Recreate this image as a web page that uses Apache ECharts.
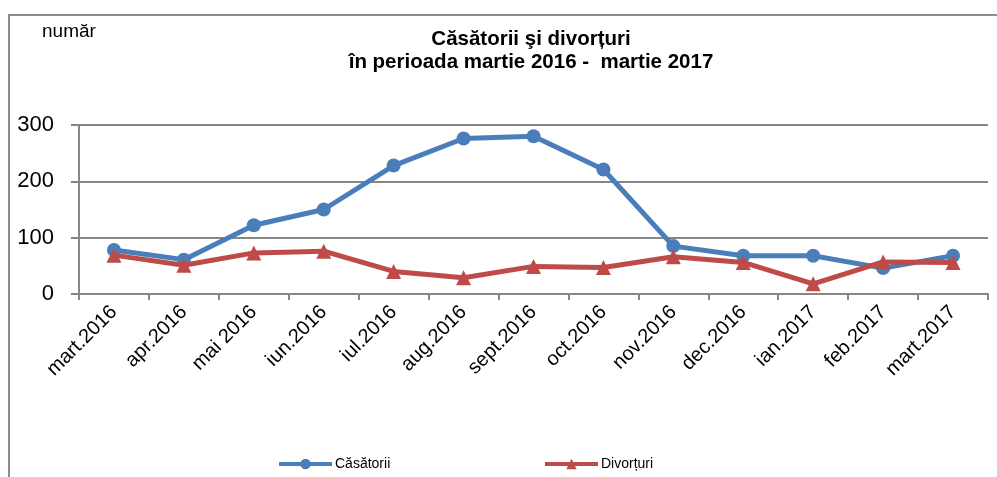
<!DOCTYPE html>
<html>
<head>
<meta charset="utf-8">
<script src="https://cdn.jsdelivr.net/npm/echarts@6/dist/echarts.min.js"></script>
<style>
html,body{margin:0;padding:0;background:#fff;}
#c{width:997px;height:477px;}
</style>
</head>
<body>
<div id="c"></div>
<script>
const categories = ['mart.2016','apr.2016','mai 2016','iun.2016','iul.2016','aug.2016','sept.2016','oct.2016','nov.2016','dec.2016','ian.2017','feb.2017','mart.2017'];
const casatorii = [78, 61, 122, 150, 228, 276, 280, 221, 85, 68, 68, 46, 68];
const divorturi = [69, 51, 73, 76, 40, 29, 49, 47, 66, 56, 18, 57, 56];
const yTicks = [0, 100, 200, 300];

const chart = echarts.init(document.getElementById('c'), null, {renderer:'canvas'});
const FONT = '"Liberation Sans", Arial, sans-serif';
chart.setOption({
  backgroundColor:'#fff',
  animation:false,
  graphic:[
    {type:'polyline', shape:{points:[[9,500],[9,15],[1010,15]]}, style:{stroke:'#8c8c8c', lineWidth:2, fill:null}},
    {type:'text', left:42, top:22, style:{text:'număr', font:'19px '+FONT, fill:'#000'}},
    {type:'text', x:531, y:39, style:{text:'Căsătorii şi divorțuri', font:'bold 20.5px '+FONT, fill:'#000', align:'center', verticalAlign:'middle'}},
    {type:'text', x:531, y:62, style:{text:'în perioada martie 2016 -  martie 2017', font:'bold 20.5px '+FONT, fill:'#000', align:'center', verticalAlign:'middle'}}
  ],
  legend:[
    {data:['Căsătorii'], left:272, top:452, itemWidth:53, itemHeight:13, itemGap:0, lineStyle:{width:4}, textStyle:{fontSize:14, fontFamily:FONT, color:'#000', padding:[0,0,0,-2]}},
    {data:['Divorțuri'], left:538, top:452, itemWidth:53, itemHeight:13, itemGap:0, lineStyle:{width:4}, textStyle:{fontSize:14, fontFamily:FONT, color:'#000', padding:[0,0,0,-2]}}
  ],
  grid:{left:79, right:9, top:125, bottom:183, containLabel:false},
  xAxis:{
    type:'category', data:categories, boundaryGap:true,
    axisLine:{lineStyle:{color:'#868686', width:2}},
    axisTick:{show:true, length:6, lineStyle:{color:'#868686', width:2}, alignWithLabel:false},
    axisLabel:{rotate:45, fontSize:20, fontFamily:FONT, color:'#000', margin:15, interval:0}
  },
  yAxis:{
    type:'value', min:0, max:300, interval:100,
    axisLine:{show:true, lineStyle:{color:'#868686', width:2}},
    axisTick:{show:true, length:8, lineStyle:{color:'#868686', width:2}},
    splitLine:{show:true, lineStyle:{color:'#868686', width:2}},
    axisLabel:{fontSize:22, fontFamily:FONT, color:'#000', margin:25,
      formatter:function(v){return yTicks.indexOf(v)>=0 ? String(v) : '';}}
  },
  series:[
    {name:'Căsătorii', type:'line', data:casatorii, symbol:'circle', symbolSize:14,
      lineStyle:{color:'#4a7ebb', width:5}, itemStyle:{color:'#4a7ebb'}, z:2},
    {name:'Divorțuri', type:'line', data:divorturi, symbol:'triangle', symbolSize:15,
      lineStyle:{color:'#be4b48', width:5}, itemStyle:{color:'#be4b48'}, z:3}
  ]
});
</script>
</body>
</html>
